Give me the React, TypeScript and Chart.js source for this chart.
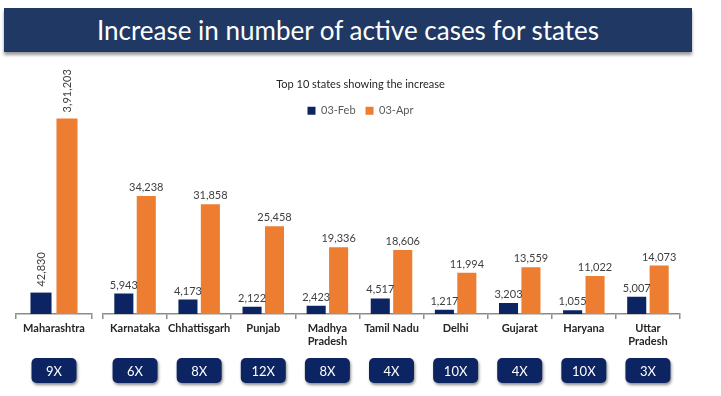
import React, { useEffect, useRef } from 'react';
import { Chart, registerables } from 'chart.js';
Chart.register(...registerables);

const states: (string | string[])[] = [
  'Maharashtra', 'Karnataka', 'Chhattisgarh', 'Punjab', ['Madhya', 'Pradesh'],
  'Tamil Nadu', 'Delhi', 'Gujarat', 'Haryana', ['Uttar', 'Pradesh'],
];
const febCases = [42830, 5943, 4173, 2122, 2423, 4517, 1217, 3203, 1055, 5007];
const aprCases = [391203, 34238, 31858, 25458, 19336, 18606, 11994, 13559, 11022, 14073];
const multipliers = ['9X', '6X', '8X', '12X', '8X', '4X', '10X', '4X', '10X', '3X'];
const seriesNames = ['03-Feb', '03-Apr'];

const NAVY = '#0c2461';
const ORANGE = '#ed7d31';
const FONT = 'Lato';

function fmtIN(n: number): string {
  const s = String(Math.round(n));
  if (s.length <= 3) return s;
  const last3 = s.slice(-3);
  let rest = s.slice(0, -3);
  const parts: string[] = [];
  while (rest.length > 2) {
    parts.unshift(rest.slice(-2));
    rest = rest.slice(0, -2);
  }
  if (rest) parts.unshift(rest);
  return parts.join(',') + ',' + last3;
}

const valueLabels = {
  id: 'valueLabels',
  afterDatasetsDraw(chart: any, _args: any, opts: any) {
    const ctx = chart.ctx;
    ctx.save();
    ctx.font = `11px ${FONT}`;
    ctx.fillStyle = '#404040';
    chart.data.datasets.forEach((ds: any, di: number) => {
      const meta = chart.getDatasetMeta(di);
      meta.data.forEach((bar: any, i: number) => {
        const v = ds.data[i];
        if (v == null) return;
        const txt = fmtIN(v);
        if (opts && opts.vertical) {
          ctx.save();
          ctx.translate(bar.x, bar.y - 6);
          ctx.rotate(-Math.PI / 2);
          ctx.textAlign = 'left';
          ctx.textBaseline = 'middle';
          ctx.fillText(txt, 0, 0);
          ctx.restore();
        } else {
          ctx.textAlign = 'center';
          ctx.textBaseline = 'bottom';
          ctx.fillText(txt, bar.x, bar.y - 3);
        }
      });
    });
    ctx.restore();
  },
};

const multiplierBoxes = {
  id: 'multiplierBoxes',
  afterDraw(chart: any, _args: any, opts: any) {
    const labels: string[] = (opts && opts.labels) || [];
    const xs = chart.scales.x;
    const ctx = chart.ctx;
    const w = 45, h = 25;
    const top = chart.chartArea.bottom + 44;
    labels.forEach((lab, i) => {
      const cx = xs.getPixelForValue(i);
      ctx.save();
      ctx.shadowColor = 'rgba(0,0,0,0.45)';
      ctx.shadowBlur = 3;
      ctx.shadowOffsetX = 1;
      ctx.shadowOffsetY = 2;
      ctx.fillStyle = NAVY;
      ctx.beginPath();
      ctx.roundRect(cx - w / 2, top, w, h, 5);
      ctx.fill();
      ctx.restore();
      ctx.save();
      ctx.fillStyle = '#ffffff';
      ctx.font = `13px ${FONT}`;
      ctx.textAlign = 'center';
      ctx.textBaseline = 'middle';
      ctx.fillText(lab, cx, top + h / 2 + 1);
      ctx.restore();
    });
  },
};

function makeConfig(
  labels: (string | string[])[],
  feb: number[],
  apr: number[],
  mult: string[],
  yMax: number,
  leftW: number,
  rightW: number,
  showHeader: boolean,
  vertical: boolean,
  catPct: number,
  barPct: number,
): any {
  return {
    type: 'bar',
    data: {
      labels,
      datasets: [
        { label: seriesNames[0], data: feb, backgroundColor: NAVY, categoryPercentage: catPct, barPercentage: barPct },
        { label: seriesNames[1], data: apr, backgroundColor: ORANGE, categoryPercentage: catPct, barPercentage: barPct },
      ],
    },
    options: {
      responsive: true,
      maintainAspectRatio: false,
      animation: false,
      layout: { padding: { top: showHeader ? 0 : 12, left: 0, right: 0, bottom: 0 } },
      plugins: {
        title: {
          display: showHeader,
          text: 'Top 10 states showing the increase',
          color: '#262626',
          font: { family: FONT, size: 11, weight: 'normal' },
          padding: { top: 16, bottom: 4 },
        },
        legend: {
          display: showHeader,
          labels: {
            boxWidth: 8,
            boxHeight: 8,
            color: '#595959',
            font: { family: FONT, size: 11 },
            padding: 10,
          },
        },
        tooltip: { enabled: false },
        valueLabels: { vertical },
        multiplierBoxes: { labels: mult },
      },
      scales: {
        x: {
          grid: { display: true, drawOnChartArea: false, drawTicks: true, tickLength: 5, color: '#8c8c8c', offset: true, lineWidth: 1.5 },
          border: { display: true, color: '#8c8c8c', width: 1.5 },
          ticks: {
            color: '#262626',
            font: { family: FONT, size: 11, weight: 'bold' },
            padding: 3,
            maxRotation: 0,
            autoSkip: false,
          },
          afterFit: (s: any) => { s.height = 82; },
        },
        y: {
          min: 0,
          max: yMax,
          display: true,
          grid: { display: false },
          border: { display: false },
          ticks: { display: false },
          afterFit: (s: any) => { s.width = leftW; },
        },
        yR: {
          type: 'linear',
          position: 'right',
          display: true,
          grid: { display: false },
          border: { display: false },
          ticks: { display: false },
          afterFit: (s: any) => { s.width = rightW; },
        },
      },
    },
    plugins: [valueLabels, multiplierBoxes],
  };
}

export default function App() {
  const refA = useRef<HTMLCanvasElement>(null);
  const refB = useRef<HTMLCanvasElement>(null);

  useEffect(() => {
    const chartB = new Chart(refB.current!, makeConfig(
      states.slice(1), febCases.slice(1), aprCases.slice(1), multipliers.slice(1),
      54500, 103, 41, true, false, 0.7, 0.85,
    ));
    const chartA = new Chart(refA.current!, makeConfig(
      states.slice(0, 1), febCases.slice(0, 1), aprCases.slice(0, 1), multipliers.slice(0, 1),
      480000, 16, 8, false, true, 0.684, 0.81,
    ));
    return () => {
      chartA.destroy();
      chartB.destroy();
    };
  }, []);

  return (
    <div style={{ position: 'fixed', left: 0, top: 0, width: 721, height: 396, background: '#ffffff', overflow: 'hidden' }}>
      <div
        style={{
          position: 'absolute', left: 4, top: 8, width: 688, height: 44,
          background: '#1f3864', color: '#ffffff', fontFamily: FONT, fontSize: 26,
          display: 'flex', alignItems: 'center', justifyContent: 'center',
          boxShadow: '0 3px 3px rgba(0,0,0,0.4)',
        }}
      >
        Increase in number of active cases for states
      </div>
      <div style={{ position: 'absolute', left: 0, top: 62, width: 721, height: 334 }}>
        <canvas ref={refB} />
      </div>
      <div style={{ position: 'absolute', left: 0, top: 62, width: 100, height: 334 }}>
        <canvas ref={refA} />
      </div>
    </div>
  );
}
